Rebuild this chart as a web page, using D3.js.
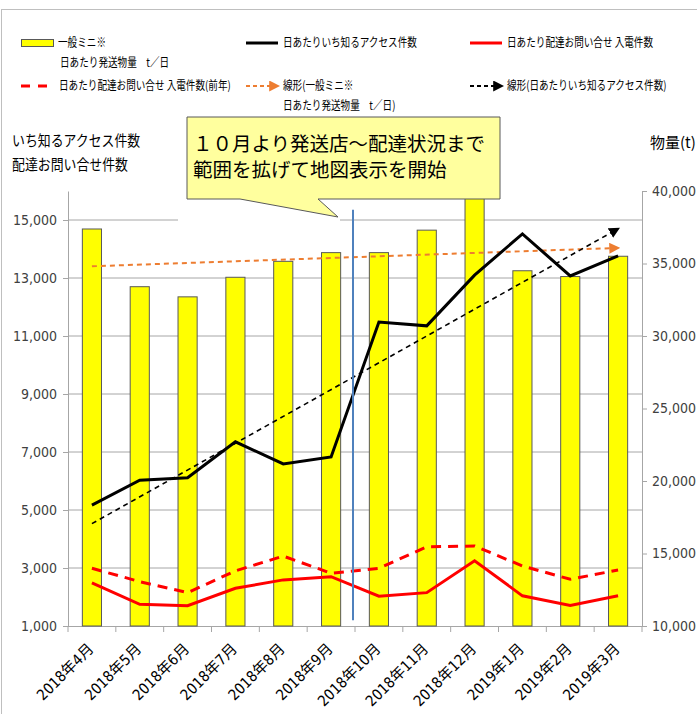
<!DOCTYPE html>
<meta charset="utf-8">
<script src="https://d3js.org/d3.v7.min.js"></script>
<style>
  body { margin: 0; background: #fff; }
  text { font-family: 'Liberation Sans Narrow', 'DejaVu Sans Condensed', 'Noto Sans CJK JP', sans-serif; fill: #404040; }
  .jp { font-family: 'Noto Sans CJK JP', sans-serif; fill: #000; }
</style>
<div id="my_dataviz"></div>
<script>

// size of the whole picture and of the plot area
var width = 697,
    height = 714,
    plotLeft = 68,
    plotRight = 642,
    plotTop = 191,
    plotBottom = 626

// data
var months = ["2018年4月", "2018年5月", "2018年6月", "2018年7月", "2018年8月", "2018年9月",
              "2018年10月", "2018年11月", "2018年12月", "2019年1月", "2019年2月", "2019年3月"]
var volume = [37380, 33400, 32700, 34050, 35150, 35750, 35750, 37300, 39700, 34500, 34100, 35500]
var access = [5170, 6030, 6110, 7350, 6590, 6830, 11480, 11350, 13100, 14520, 13070, 13760]
var calls = [2490, 1750, 1700, 2300, 2590, 2700, 2030, 2150, 3250, 2040, 1710, 2040]
var callsPrev = [2990, 2530, 2150, 2900, 3410, 2820, 2990, 3730, 3760, 3070, 2610, 2930]
var leftTicks = [1000, 3000, 5000, 7000, 9000, 11000, 13000, 15000]
var rightTicks = [10000, 15000, 20000, 25000, 30000, 35000, 40000]

var svg = d3.select("#my_dataviz")
  .append("svg")
    .attr("width", width)
    .attr("height", height)

// outer frame of the chart area
svg.append("rect")
  .attr("x", 1.5).attr("y", 9.5)
  .attr("width", width + 10).attr("height", height)
  .attr("fill", "none").attr("stroke", "#bfbfbf")

var defs = svg.append("defs")
function arrow(id, color) {
  defs.append("marker")
    .attr("id", id)
    .attr("viewBox", "0 0 10 10")
    .attr("refX", 8).attr("refY", 5)
    .attr("markerUnits", "userSpaceOnUse")
    .attr("markerWidth", 11).attr("markerHeight", 11)
    .attr("orient", "auto")
    .append("path")
      .attr("d", "M0,0 L10,5 L0,10 Z")
      .attr("fill", color)
}
arrow("arrowOrange", "#ed7d31")
arrow("arrowBlack", "#000")

// scales
var x = d3.scaleBand()
  .domain(months)
  .range([plotLeft, plotRight])
  .paddingInner(0.6)
  .paddingOuter(0.3)
var cx = function(i) { return x(months[i]) + x.bandwidth() / 2 }
var edge = function(i) { return plotLeft + i * x.step() }

var yL = d3.scaleLinear().domain([1000, 16000]).range([plotBottom, plotTop])
var yR = d3.scaleLinear().domain([10000, 40000]).range([plotBottom, plotTop])

// gridlines from the left axis
svg.append("g")
  .selectAll("line")
  .data(leftTicks.slice(1))
  .enter().append("line")
    .attr("x1", plotLeft).attr("x2", plotRight)
    .attr("y1", function(d) { return yL(d) }).attr("y2", function(d) { return yL(d) })
    .attr("stroke", "#a6a6a6").attr("stroke-width", 1)

// white patch left behind the callout
svg.append("rect")
  .attr("x", 178).attr("y", 205).attr("width", 162).attr("height", 20)
  .attr("fill", "#fff")

// left axis
var gL = svg.append("g")
  .attr("transform", "translate(" + plotLeft + ",0)")
  .call(d3.axisLeft(yL).tickValues(leftTicks).tickFormat(d3.format(",")).tickSize(5).tickSizeOuter(0))
gL.selectAll("text").attr("x", -11).style("font-size", "14px")

// right axis
var gR = svg.append("g")
  .attr("transform", "translate(" + plotRight + ",0)")
  .call(d3.axisRight(yR).tickValues(rightTicks).tickFormat(d3.format(",")).tickSize(5).tickSizeOuter(0))
gR.selectAll("text").attr("x", 10).style("font-size", "14px")

svg.selectAll(".domain, .tick line").attr("stroke", "#a6a6a6")
svg.selectAll(".tick text").attr("fill", "#404040")

// bottom axis: line, ticks at category edges, rotated labels
svg.append("line")
  .attr("x1", plotLeft).attr("x2", plotRight)
  .attr("y1", plotBottom + 0.5).attr("y2", plotBottom + 0.5)
  .attr("stroke", "#a6a6a6")
svg.append("g")
  .selectAll("line")
  .data(d3.range(months.length + 1))
  .enter().append("line")
    .attr("x1", function(i) { return edge(i) }).attr("x2", function(i) { return edge(i) })
    .attr("y1", plotBottom).attr("y2", plotBottom + 6)
    .attr("stroke", "#a6a6a6")
svg.append("g")
  .selectAll("text")
  .data(months)
  .enter().append("text")
    .attr("transform", function(d, i) { return "translate(" + (cx(i) - 1) + "," + (plotBottom + 20) + ") rotate(-45)" })
    .attr("text-anchor", "end")
    .attr("dy", "0.35em")
    .style("font-size", "15px")
    .style("fill", "#000")
    .text(function(d) { return d })

// bars
svg.append("g")
  .selectAll("rect")
  .data(volume)
  .enter().append("rect")
    .attr("x", function(d, i) { return x(months[i]) })
    .attr("width", x.bandwidth())
    .attr("y", function(d) { return yR(d) })
    .attr("height", function(d) { return plotBottom - yR(d) })
    .attr("fill", "#ffff00")
    .attr("stroke", "#595959")
    .attr("stroke-width", 1)

// linear trend (least squares), drawn first to last category
function trend(values) {
  var n = values.length, mx = (n - 1) / 2, my = d3.mean(values)
  var sxy = d3.sum(values, function(v, i) { return (i - mx) * (v - my) })
  var sxx = d3.sum(values, function(v, i) { return (i - mx) * (i - mx) })
  var b = sxy / sxx
  return [my - b * mx, my + b * (n - 1 - mx)]
}
var tv = trend(volume)
svg.append("line")
  .attr("x1", cx(0)).attr("x2", cx(months.length - 1))
  .attr("y1", yR(tv[0])).attr("y2", yR(tv[1]))
  .attr("stroke", "#ed7d31").attr("stroke-width", 2)
  .attr("stroke-dasharray", "5,4")
  .attr("marker-end", "url(#arrowOrange)")
var ta = trend(access)
svg.append("line")
  .attr("x1", cx(0)).attr("x2", cx(months.length - 1))
  .attr("y1", yL(ta[0])).attr("y2", yL(ta[1]))
  .attr("stroke", "#000").attr("stroke-width", 1.6)
  .attr("stroke-dasharray", "5,4")
  .attr("marker-end", "url(#arrowBlack)")

// lines
var lineL = d3.line()
  .x(function(d, i) { return cx(i) })
  .y(function(d) { return yL(d) })

svg.append("path").datum(callsPrev)
  .attr("d", lineL).attr("fill", "none")
  .attr("stroke", "#ff0000").attr("stroke-width", 3)
  .attr("stroke-dasharray", "10,7")
svg.append("path").datum(calls)
  .attr("d", lineL).attr("fill", "none")
  .attr("stroke", "#ff0000").attr("stroke-width", 3)
svg.append("path").datum(access)
  .attr("d", lineL).attr("fill", "none")
  .attr("stroke", "#000").attr("stroke-width", 3)

// vertical marker between 9月 and 10月
svg.append("line")
  .attr("x1", edge(6) - 2).attr("x2", edge(6) - 2)
  .attr("y1", yL(15350)).attr("y2", yL(1200))
  .attr("stroke", "#4f81bd").attr("stroke-width", 2)

// callout
svg.append("path")
  .attr("d", "M187,117 L500,117 L500,199 L318,199 L338,217 L240,199 L187,199 Z")
  .attr("fill", "#ffff9e")
  .attr("stroke", "#595959")
  .attr("stroke-width", 1)
var callout = ["１０月より発送店～配達状況まで", "範囲を拡げて地図表示を開始"]
svg.append("g")
  .selectAll("text")
  .data(callout)
  .enter().append("text")
    .attr("class", "jp")
    .attr("x", 193)
    .attr("y", function(d, i) { return 151 + i * 26 })
    .style("font-size", "19.5px")
    .text(function(d) { return d })

// axis titles
var leftTitle = ["いち知るアクセス件数", "配達お問い合せ件数"]
svg.append("g")
  .selectAll("text")
  .data(leftTitle)
  .enter().append("text")
    .attr("class", "jp")
    .attr("transform", function(d, i) { return "translate(12," + (146 + i * 24) + ") scale(0.86,1)" })
    .style("font-size", "15px")
    .text(function(d) { return d })
svg.append("text")
  .attr("class", "jp")
  .attr("x", 650).attr("y", 148)
  .style("font-size", "15px")
  .text("物量(t)")

// legend
var legend = [
  { x: 21, y: 43, kind: "bar", label: ["一般ミニ※", "日あたり発送物量　t／日"] },
  { x: 246, y: 43, kind: "black", label: ["日あたりいち知るアクセス件数"] },
  { x: 470, y: 43, kind: "red", label: ["日あたり配達お問い合せ 入電件数"] },
  { x: 21, y: 86, kind: "redDash", label: ["日あたり配達お問い合せ 入電件数(前年)"] },
  { x: 246, y: 86, kind: "orangeTrend", label: ["線形(一般ミニ※", "日あたり発送物量　t／日)"] },
  { x: 470, y: 86, kind: "blackTrend", label: ["線形(日あたりいち知るアクセス件数)"] }
]
var lg = svg.append("g").selectAll("g").data(legend).enter().append("g")
  .attr("transform", function(d) { return "translate(" + d.x + "," + d.y + ")" })

lg.each(function(d) {
  var g = d3.select(this)
  if (d.kind == "bar") {
    g.append("rect").attr("x", 0.5).attr("y", -3.5).attr("width", 32).attr("height", 7)
      .attr("fill", "#ffff00").attr("stroke", "#595959")
  } else if (d.kind == "black" || d.kind == "red") {
    g.append("line").attr("x1", 0).attr("x2", 32).attr("y1", 0).attr("y2", 0)
      .attr("stroke", d.kind == "black" ? "#000" : "#ff0000").attr("stroke-width", 3)
  } else if (d.kind == "redDash") {
    g.append("line").attr("x1", 0).attr("x2", 27).attr("y1", 0).attr("y2", 0)
      .attr("stroke", "#ff0000").attr("stroke-width", 3).attr("stroke-dasharray", "9,8")
  } else {
    var col = d.kind == "orangeTrend" ? "#ed7d31" : "#000"
    g.append("line").attr("x1", 0).attr("x2", 32).attr("y1", 0).attr("y2", 0)
      .attr("stroke", col).attr("stroke-width", 2).attr("stroke-dasharray", "4,3")
      .attr("marker-end", d.kind == "orangeTrend" ? "url(#arrowOrange)" : "url(#arrowBlack)")
  }
  var tx = d.kind == "redDash" ? 38 : 37
  g.selectAll("text").data(d.label).enter().append("text")
    .attr("class", "jp")
    .attr("transform", function(t, i) { return "translate(" + (tx + (i > 0 && d.kind == "bar" ? 2 : 0)) + "," + (4 + i * 20) + ") scale(0.8,1)" })
    .style("font-size", "12px")
    .text(function(t) { return t })
})

</script>
